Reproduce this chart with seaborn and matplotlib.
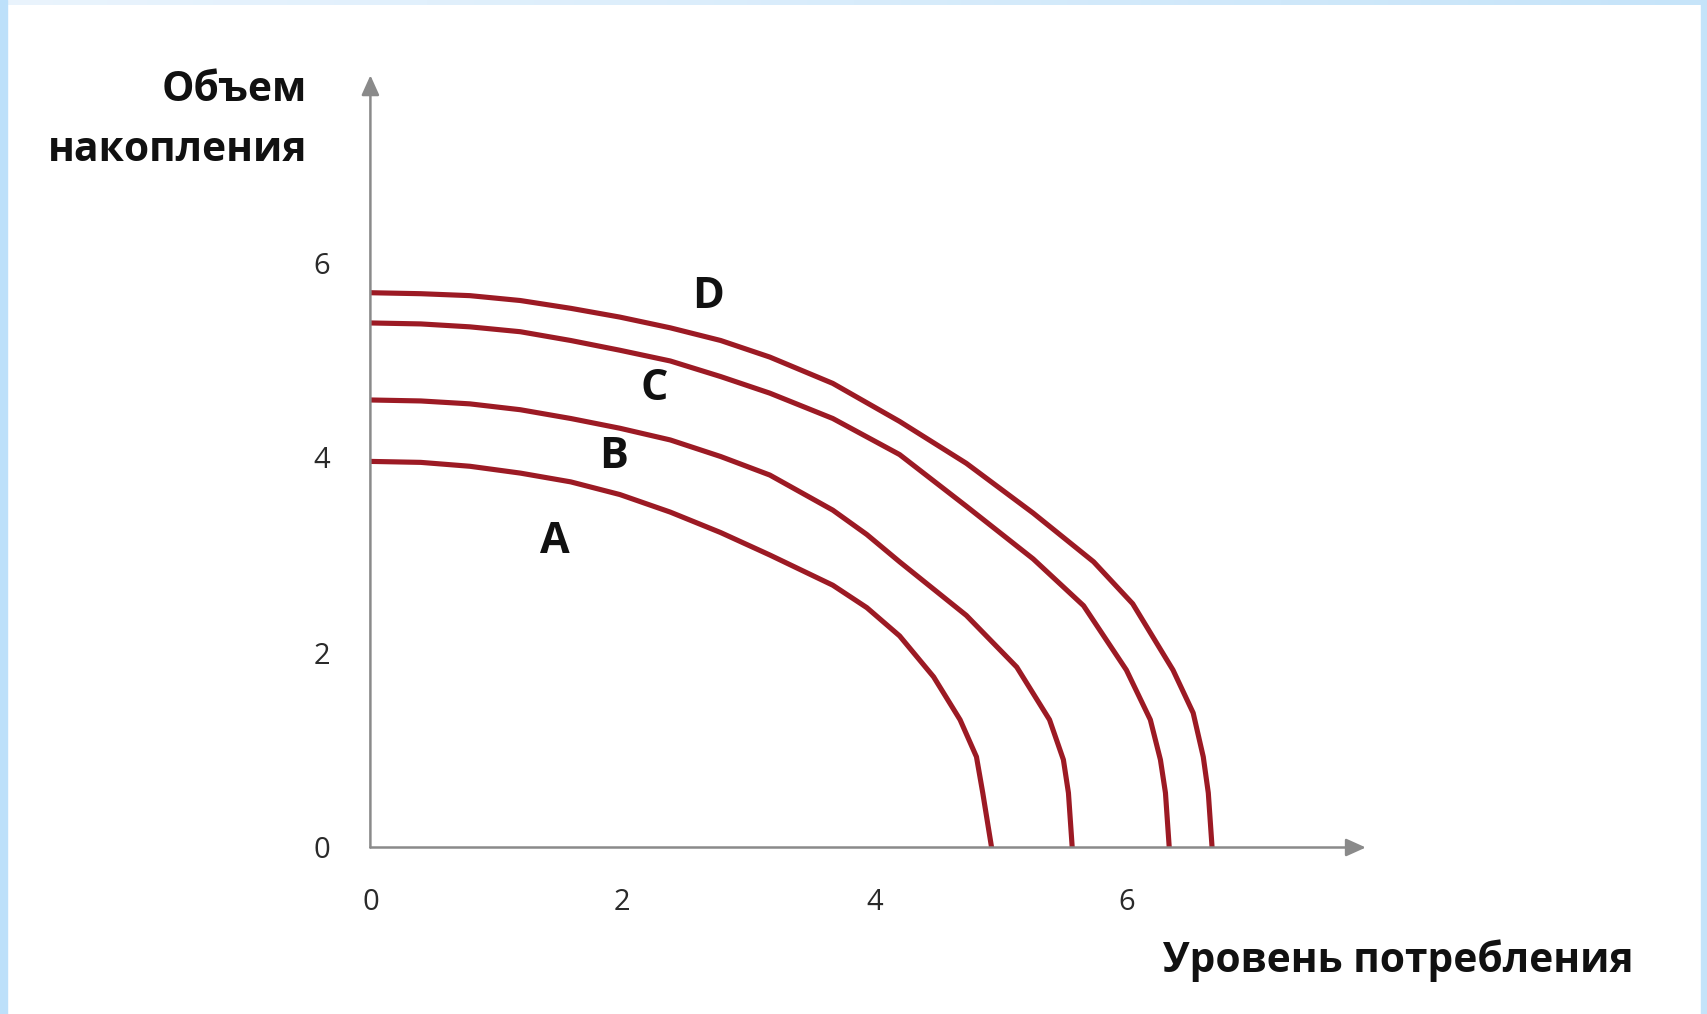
import numpy as np
import pandas as pd
import matplotlib
matplotlib.use("Agg")
import matplotlib.pyplot as plt
from matplotlib.patches import Rectangle
from matplotlib.colors import LinearSegmentedColormap
import seaborn as sns

# ---- data ----
curve_names = ["A", "B", "C", "D"]
a_x = [0.00, 0.40, 0.79, 1.19, 1.59, 1.98, 2.38, 2.78, 3.17, 3.67, 3.94, 4.20, 4.47, 4.68, 4.81, 4.86, 4.93]
a_y = [3.96, 3.95, 3.91, 3.84, 3.75, 3.62, 3.44, 3.23, 3.00, 2.69, 2.46, 2.17, 1.75, 1.31, 0.93, 0.56, 0.00]
b_x = [0.00, 0.40, 0.79, 1.19, 1.59, 1.98, 2.38, 2.78, 3.17, 3.67, 3.94, 4.20, 4.73, 5.13, 5.39, 5.50, 5.54, 5.57]
b_y = [4.59, 4.58, 4.55, 4.49, 4.40, 4.30, 4.18, 4.01, 3.82, 3.46, 3.21, 2.93, 2.38, 1.85, 1.31, 0.90, 0.56, 0.00]
c_x = [0.00, 0.40, 0.79, 1.19, 1.59, 1.98, 2.38, 2.78, 3.17, 3.67, 4.20, 4.73, 5.26, 5.66, 6.00, 6.19, 6.27, 6.31, 6.34]
c_y = [5.38, 5.37, 5.34, 5.29, 5.20, 5.10, 4.99, 4.83, 4.66, 4.40, 4.03, 3.50, 2.96, 2.48, 1.82, 1.31, 0.90, 0.56, 0.00]
d_x = [0.00, 0.40, 0.79, 1.19, 1.59, 1.98, 2.38, 2.78, 3.17, 3.67, 4.20, 4.73, 5.26, 5.74, 6.05, 6.37, 6.53, 6.61, 6.65, 6.68]
d_y = [5.69, 5.68, 5.66, 5.61, 5.53, 5.44, 5.33, 5.20, 5.03, 4.76, 4.37, 3.94, 3.43, 2.93, 2.50, 1.82, 1.38, 0.93, 0.56, 0.00]
label_x = [1.46, 1.93, 2.25, 2.68]
label_y = [3.14, 4.01, 4.71, 5.65]
tick_values = [0, 2, 4, 6]
tick_labels = ["0", "2", "4", "6"]
x_title = "Уровень потребления"
y_title_lines = ["Объем", "накопления"]

frames = []
for name, xs, ys in zip(curve_names, [a_x, b_x, c_x, d_x], [a_y, b_y, c_y, d_y]):
    frames.append(pd.DataFrame({"x": xs, "y": ys, "curve": name}))
df = pd.concat(frames, ignore_index=True)

sns.set_theme(style="white")
plt.rcParams["font.family"] = ["Open Sans", "DejaVu Sans"]

RED = "#9c1a24"
GRAY = "#8a8a8a"

W, H = 1708, 1014
fig = plt.figure(figsize=(W / 100, H / 100), dpi=100)
fig.patch.set_facecolor("white")

# light-blue frame
fig.patches.append(Rectangle((0, 0), 7 / W, 1, transform=fig.transFigure, color="#bde0fa", zorder=0))
fig.patches.append(Rectangle((1 - 7 / W, 0), 7 / W, 1, transform=fig.transFigure, color="#c4e3f9", zorder=0))
gax = fig.add_axes([0, 1 - 5 / H, 1, 5 / H])
grad = np.linspace(0, 1, 256)[None, :]
cm = LinearSegmentedColormap.from_list("g", ["#eaf4fd", "#c6e4f9"])
gax.imshow(grad, aspect="auto", cmap=cm, extent=[0, 1, 0, 1])
gax.axis("off")

ax = fig.add_axes([370.4 / W, (H - 847.5) / H, 1008 / W, 780 / H])
ax.set_facecolor("none")
sns.lineplot(data=df, x="x", y="y", hue="curve", units="curve", estimator=None, sort=False,
             palette={n: RED for n in curve_names}, linewidth=3.7, legend=False, ax=ax,
             solid_joinstyle="round", solid_capstyle="butt")
ax.set_xlim(0, 8)
ax.set_ylim(0, 8)
for s in ax.spines.values():
    s.set_visible(False)
ax.set_xlabel("")
ax.set_ylabel("")
ax.set_xticks(tick_values)
ax.set_xticklabels(tick_labels)
ax.set_yticks(tick_values)
ax.set_yticklabels(tick_labels)
ax.tick_params(axis="both", length=0, labelsize=21, colors="#2a2a2a")
ax.tick_params(axis="x", pad=29)
ax.tick_params(axis="y", pad=29)

# axis arrows
arrow = dict(arrowstyle="-|>,head_length=1.0,head_width=0.45", color=GRAY, lw=1.8, shrinkA=0, shrinkB=0)
ax.annotate("", xy=(7.9, 0), xytext=(0, 0), xycoords="data", arrowprops=arrow, annotation_clip=False)
ax.annotate("", xy=(0, 7.92), xytext=(0, 0), xycoords="data", arrowprops=arrow, annotation_clip=False)

for name, lx, ly in zip(curve_names, label_x, label_y):
    ax.text(lx, ly, name, ha="center", va="center", fontsize=31, fontweight="bold", color="#111111")

for line, yc in zip(y_title_lines, [90.5, 150.5]):
    fig.text(307 / W, 1 - yc / H, line, ha="right", va="center", fontsize=29.3, fontweight="bold",
             color="#111111")
fig.text(1634 / W, 1 - 961 / H, x_title, ha="right", va="center", fontsize=29.3, fontweight="bold",
         color="#111111")

fig.savefig("out.png", dpi=100, facecolor="white")
